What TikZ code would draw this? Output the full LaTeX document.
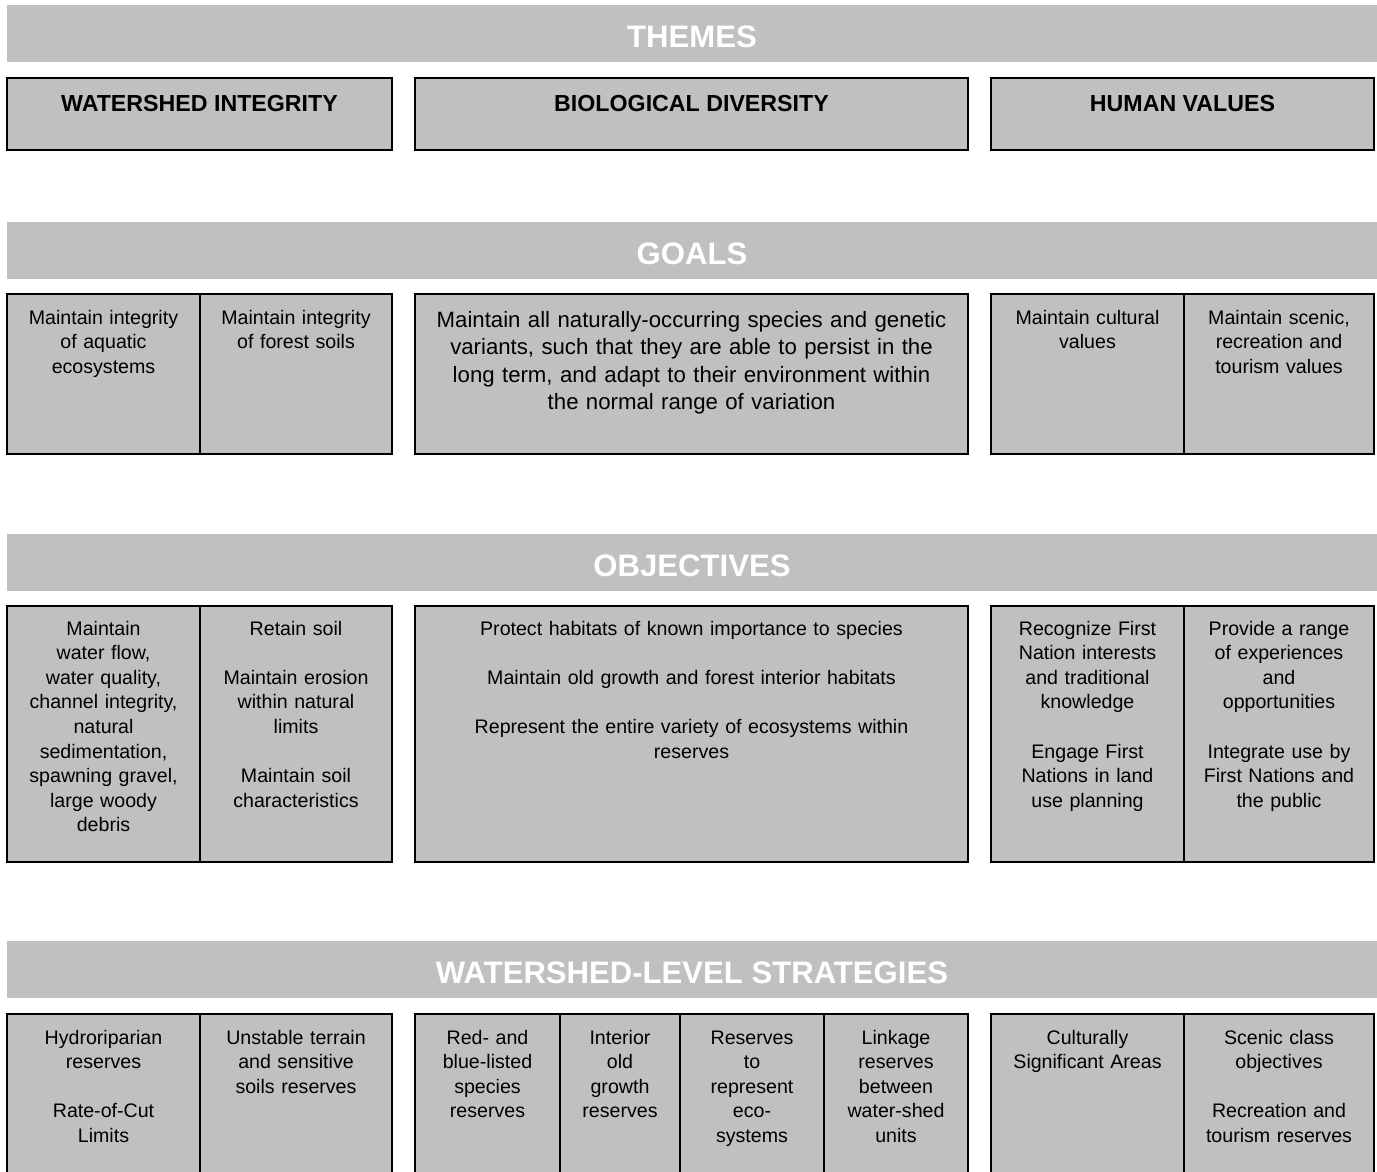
\documentclass[tikz,border=0pt]{standalone}
\usepackage{fontspec}
\setmainfont{Liberation Sans}
\usetikzlibrary{positioning}
\definecolor{boxgray}{RGB}{192,192,192}

\begin{document}
\begin{tikzpicture}[x=1pt, y=-1pt]
        % Define block styles
        \tikzstyle{banner} = [rectangle, fill=boxgray, anchor=north west, minimum width=1370pt, minimum height=57pt, inner sep=0pt, outer sep=0pt]
        \tikzstyle{cell} = [rectangle, draw, line width=2pt, fill=boxgray, inner sep=0pt, outer sep=0pt]
        \tikzstyle{title} = [anchor=base, text=white, font=\fontsize{31.1}{36}\selectfont\bfseries]
        \tikzstyle{heading} = [anchor=base, font=\fontsize{23.2}{27}\selectfont\bfseries]
        \tikzstyle{entry} = [anchor=base, align=center, text width=170pt, inner sep=0pt, font=\fontsize{19.6}{24.6}\selectfont]

        \clip (0,0) rectangle (1377,1171);

        % Banners
        \node [banner] (Themes) at (7,5) {};
        \node [banner] (Goals) at (7,222) {};
        \node [banner] (Objectives) at (7,534) {};
        \node [banner] (Strategies) at (7,941) {};
        \node [title] at ([yshift=-42pt]Themes.north) {THEMES};
        \node [title] at ([yshift=-42pt]Goals.north) {GOALS};
        \node [title] at ([yshift=-42pt]Objectives.north) {OBJECTIVES};
        \node [title] at ([yshift=-42pt]Strategies.north) {WATERSHED-LEVEL STRATEGIES};

        % Themes
        \node [cell, anchor=north west, minimum width=385pt, minimum height=72pt] (Theme_Watershed) at (7,78) {};
        \node [cell, minimum width=553pt, minimum height=72pt, right=23pt of Theme_Watershed] (Theme_Biological) {};
        \node [cell, minimum width=383pt, minimum height=72pt, right=23pt of Theme_Biological] (Theme_Human) {};
        \node [heading] at ([yshift=-33pt]Theme_Watershed.north) {WATERSHED INTEGRITY};
        \node [heading] at ([yshift=-33pt]Theme_Biological.north) {BIOLOGICAL DIVERSITY};
        \node [heading] at ([yshift=-33pt]Theme_Human.north) {HUMAN VALUES};

        % Goals
        \node [cell, anchor=north west, minimum width=193pt, minimum height=160pt] (Goal_Aquatic) at (7,294) {};
        \node [cell, minimum width=192pt, minimum height=160pt, right=0pt of Goal_Aquatic] (Goal_Soils) {};
        \node [cell, minimum width=553pt, minimum height=160pt, right=23pt of Goal_Soils] (Goal_Species) {};
        \node [cell, minimum width=193pt, minimum height=160pt, right=23pt of Goal_Species] (Goal_Cultural) {};
        \node [cell, minimum width=190pt, minimum height=160pt, right=0pt of Goal_Cultural] (Goal_Scenic) {};
        \node [entry] at ([yshift=-30pt]Goal_Aquatic.north) {Maintain integrity\\ of aquatic\\ ecosystems};
        \node [entry] at ([yshift=-30pt]Goal_Soils.north) {Maintain integrity\\ of forest soils};
        \node [entry, text width=530pt, font=\fontsize{22.2}{27.6}\selectfont] at ([yshift=-33pt]Goal_Species.north) {Maintain all naturally-occurring species and genetic\\ variants, such that they are able to persist in the\\ long term, and adapt to their environment within\\ the normal range of variation};
        \node [entry] at ([yshift=-30pt]Goal_Cultural.north) {Maintain cultural\\ values};
        \node [entry] at ([yshift=-30pt]Goal_Scenic.north) {Maintain scenic,\\ recreation and\\ tourism values};

        % Objectives
        \node [cell, anchor=north west, minimum width=193pt, minimum height=256pt] (Obj_Water) at (7,606) {};
        \node [cell, minimum width=192pt, minimum height=256pt, right=0pt of Obj_Water] (Obj_Soil) {};
        \node [cell, minimum width=553pt, minimum height=256pt, right=23pt of Obj_Soil] (Obj_Habitat) {};
        \node [cell, minimum width=193pt, minimum height=256pt, right=23pt of Obj_Habitat] (Obj_Nations) {};
        \node [cell, minimum width=190pt, minimum height=256pt, right=0pt of Obj_Nations] (Obj_Experience) {};
        \node [entry] at ([yshift=-29pt]Obj_Water.north) {Maintain\\ water flow,\\ water quality,\\ channel integrity,\\ natural\\ sedimentation,\\ spawning gravel,\\ large woody\\ debris};
        \node [entry] at ([yshift=-29pt]Obj_Soil.north) {Retain soil\\[24.6pt] Maintain erosion\\ within natural\\ limits\\[24.6pt] Maintain soil\\ characteristics};
        \node [entry, text width=530pt] at ([yshift=-29pt]Obj_Habitat.north) {Protect habitats of known importance to species\\[24.6pt] Maintain old growth and forest interior habitats\\[24.6pt] Represent the entire variety of ecosystems within\\ reserves};
        \node [entry] at ([yshift=-29pt]Obj_Nations.north) {Recognize First\\ Nation interests\\ and traditional\\ knowledge\\[24.6pt] Engage First\\ Nations in land\\ use planning};
        \node [entry] at ([yshift=-29pt]Obj_Experience.north) {Provide a range\\ of experiences\\ and\\ opportunities\\[24.6pt] Integrate use by\\ First Nations and\\ the public};

        % Strategies
        \node [cell, anchor=north west, minimum width=193pt, minimum height=180pt] (Str_Riparian) at (7,1014) {};
        \node [cell, minimum width=192pt, minimum height=180pt, right=0pt of Str_Riparian] (Str_Terrain) {};
        \node [cell, minimum width=145pt, minimum height=180pt, right=23pt of Str_Terrain] (Str_Listed) {};
        \node [cell, minimum width=120pt, minimum height=180pt, right=0pt of Str_Listed] (Str_Interior) {};
        \node [cell, minimum width=144pt, minimum height=180pt, right=0pt of Str_Interior] (Str_Represent) {};
        \node [cell, minimum width=144pt, minimum height=180pt, right=0pt of Str_Represent] (Str_Linkage) {};
        \node [cell, minimum width=193pt, minimum height=180pt, right=23pt of Str_Linkage] (Str_Cultural) {};
        \node [cell, minimum width=190pt, minimum height=180pt, right=0pt of Str_Cultural] (Str_Scenic) {};
        \node [entry] at ([yshift=-30pt]Str_Riparian.north) {Hydroriparian\\ reserves\\[24.6pt] Rate-of-Cut\\ Limits};
        \node [entry] at ([yshift=-30pt]Str_Terrain.north) {Unstable terrain\\ and sensitive\\ soils reserves};
        \node [entry, text width=120pt] at ([yshift=-30pt]Str_Listed.north) {Red- and\\ blue-listed\\ species\\ reserves};
        \node [entry, text width=100pt] at ([yshift=-30pt]Str_Interior.north) {Interior\\ old\\ growth\\ reserves};
        \node [entry, text width=120pt] at ([yshift=-30pt]Str_Represent.north) {Reserves\\ to\\ represent\\ eco-\\ systems};
        \node [entry, text width=120pt] at ([yshift=-30pt]Str_Linkage.north) {Linkage\\ reserves\\ between\\ water-shed\\ units};
        \node [entry] at ([yshift=-30pt]Str_Cultural.north) {Culturally\\ Significant Areas};
        \node [entry] at ([yshift=-30pt]Str_Scenic.north) {Scenic class\\ objectives\\[24.6pt] Recreation and\\ tourism reserves};
    \end{tikzpicture}
\end{document}
